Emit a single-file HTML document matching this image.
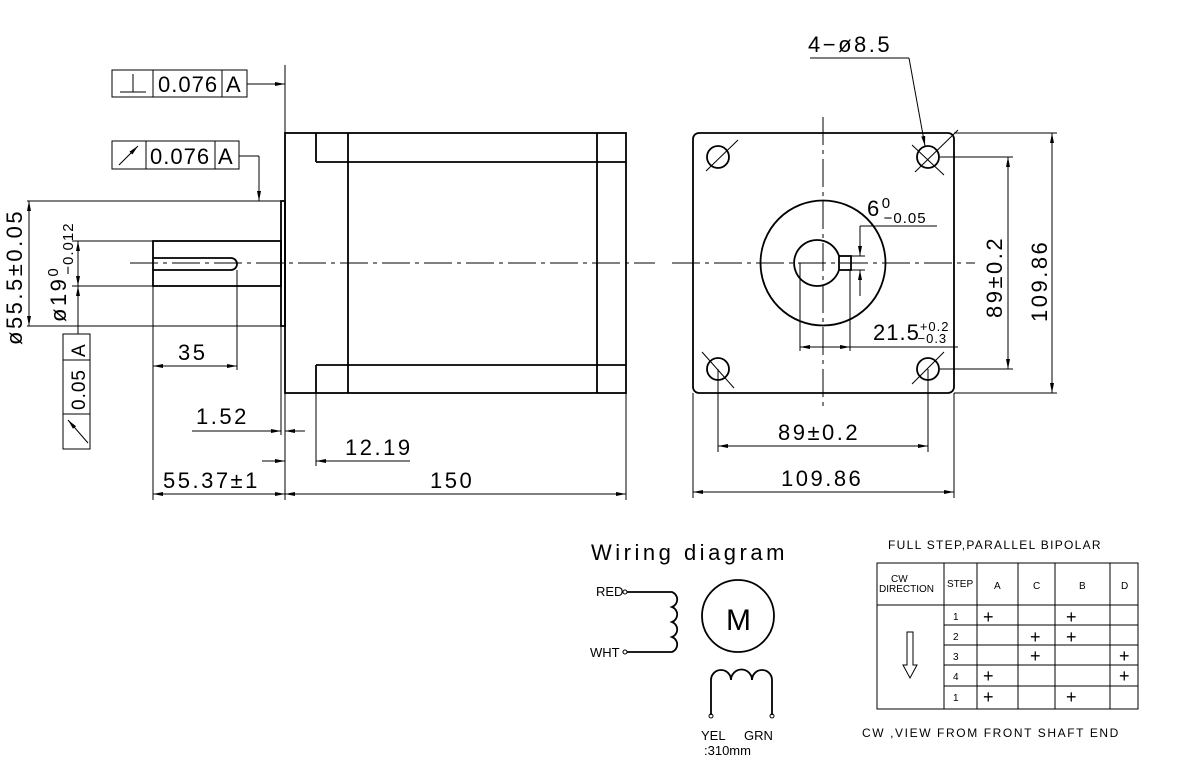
<!DOCTYPE html>
<html><head><meta charset="utf-8"><style>
html,body{margin:0;padding:0;background:#fff}
svg{display:block}
text{font-family:"Liberation Sans",sans-serif;fill:#000}
</style></head><body>
<svg width="1189" height="764" viewBox="0 0 1189 764" xmlns="http://www.w3.org/2000/svg">
<defs>
<marker id="a" viewBox="0 0 10 6" refX="10" refY="3" markerWidth="10" markerHeight="6" orient="auto-start-reverse" markerUnits="userSpaceOnUse"><path d="M0,1 L10,3 L0,5 Z" fill="#000"/></marker>
</defs>
<g stroke="#000" fill="none" stroke-width="1">
<line x1="130" y1="263" x2="655" y2="263" stroke-dasharray="28,5,4,5"/>
<line x1="672" y1="263" x2="975" y2="263" stroke-dasharray="28,5,4,5"/>
<line x1="823" y1="117" x2="823" y2="410" stroke-dasharray="28,5,4,5"/>

<g stroke-width="1.8">
<rect x="285" y="133" width="341" height="260"/>
<line x1="348" y1="133" x2="348" y2="393"/>
<line x1="597" y1="133" x2="597" y2="393"/>
<line x1="316" y1="133" x2="316" y2="162"/>
<line x1="316" y1="365" x2="316" y2="393"/>
<line x1="316" y1="162" x2="626" y2="162"/>
<line x1="316" y1="365" x2="626" y2="365"/>
<rect x="281" y="201" width="4" height="125"/>
<rect x="153" y="241" width="128" height="45"/>
<path d="M153,258 H231 A6,6 0 0 1 231,270 H153"/>
</g>
<line x1="285" y1="65" x2="285" y2="133"/>
<line x1="27" y1="201" x2="281" y2="201"/>
<line x1="27" y1="326" x2="281" y2="326"/>
<line x1="29" y1="201" x2="29" y2="326" marker-start="url(#a)" marker-end="url(#a)"/>
<line x1="72" y1="241" x2="153" y2="241"/>
<line x1="72" y1="286" x2="153" y2="286"/>
<line x1="78" y1="241" x2="78" y2="286" marker-start="url(#a)" marker-end="url(#a)"/>
<line x1="78" y1="334" x2="78" y2="286" marker-end="url(#a)"/>
<rect x="112" y="70" width="135" height="27"/>
<line x1="153" y1="70" x2="153" y2="97"/><line x1="222" y1="70" x2="222" y2="97"/>
<line x1="120" y1="92" x2="146" y2="92"/><line x1="133" y1="74" x2="133" y2="92"/>
<line x1="247" y1="84" x2="285" y2="84" marker-end="url(#a)"/>
<rect x="112" y="141" width="127" height="28"/>
<line x1="146" y1="141" x2="146" y2="169"/><line x1="215" y1="141" x2="215" y2="169"/>
<line x1="119" y1="165" x2="138" y2="146" marker-end="url(#a)"/>
<polyline points="239,156 259,156"/>
<line x1="259" y1="156" x2="259" y2="201" marker-end="url(#a)"/>
<rect x="63" y="334" width="27" height="115"/>
<line x1="63" y1="360" x2="90" y2="360"/><line x1="63" y1="414" x2="90" y2="414"/>
<line x1="88" y1="443" x2="68" y2="420" marker-end="url(#a)"/>
<line x1="153" y1="286" x2="153" y2="500"/>
<line x1="237" y1="270" x2="237" y2="370"/>
<line x1="153" y1="366" x2="237" y2="366" marker-start="url(#a)" marker-end="url(#a)"/>
<line x1="281" y1="326" x2="281" y2="435"/>
<line x1="192" y1="431" x2="281" y2="431" marker-end="url(#a)"/>
<line x1="305" y1="431" x2="285" y2="431" marker-end="url(#a)"/>
<line x1="285" y1="393" x2="285" y2="500"/>
<line x1="316" y1="393" x2="316" y2="466"/>
<line x1="262" y1="461" x2="285" y2="461" marker-end="url(#a)"/>
<line x1="410" y1="461" x2="316" y2="461" marker-end="url(#a)"/>
<line x1="626" y1="393" x2="626" y2="500"/>
<line x1="153" y1="494" x2="285" y2="494" marker-start="url(#a)" marker-end="url(#a)"/>
<line x1="285" y1="494" x2="626" y2="494" marker-start="url(#a)" marker-end="url(#a)"/>

<g stroke-width="1.8">
<rect x="693" y="133" width="261" height="260" rx="6"/>
<circle cx="823" cy="263" r="62.5"/>
<path d="M839,256 A23,23 0 1 0 839,270"/>
<rect x="839" y="256" width="12" height="14"/>
<circle cx="718" cy="157" r="11"/><circle cx="928" cy="157" r="11"/>
<circle cx="718" cy="369" r="11"/><circle cx="928" cy="369" r="11"/>
</g>
<line x1="706" y1="171" x2="738" y2="140"/>
<line x1="912" y1="145" x2="944" y2="175"/><line x1="915" y1="172" x2="958" y2="130"/>
<line x1="702" y1="352" x2="734" y2="388"/>
<line x1="912" y1="384" x2="944" y2="352"/>
<line x1="810" y1="58" x2="909" y2="58"/>
<line x1="909" y1="58" x2="925" y2="146" marker-end="url(#a)"/>
<line x1="860" y1="226" x2="937" y2="226"/>
<line x1="860" y1="226" x2="860" y2="256" marker-end="url(#a)"/>
<line x1="860" y1="296" x2="860" y2="270" marker-end="url(#a)"/>
<line x1="851" y1="256" x2="865" y2="256"/><line x1="851" y1="270" x2="865" y2="270"/>
<line x1="800" y1="263" x2="800" y2="351"/>
<line x1="850" y1="270" x2="850" y2="351"/>
<line x1="800" y1="347" x2="850" y2="347" marker-start="url(#a)" marker-end="url(#a)"/>
<line x1="850" y1="347" x2="958" y2="347"/>
<line x1="940" y1="157" x2="1013" y2="157"/>
<line x1="940" y1="369" x2="1013" y2="369"/>
<line x1="1008" y1="157" x2="1008" y2="369" marker-start="url(#a)" marker-end="url(#a)"/>
<line x1="954" y1="133" x2="1057" y2="133"/>
<line x1="954" y1="393" x2="1057" y2="393"/>
<line x1="1052" y1="133" x2="1052" y2="393" marker-start="url(#a)" marker-end="url(#a)"/>
<line x1="718" y1="369" x2="718" y2="452"/><line x1="928" y1="369" x2="928" y2="452"/>
<line x1="718" y1="446" x2="928" y2="446" marker-start="url(#a)" marker-end="url(#a)"/>
<line x1="693" y1="393" x2="693" y2="498"/><line x1="954" y1="393" x2="954" y2="498"/>
<line x1="693" y1="492" x2="954" y2="492" marker-start="url(#a)" marker-end="url(#a)"/>

<circle cx="738" cy="616" r="36" stroke-width="1.8"/>
<g stroke-width="1.8">
<path d="M627,592 H672 A8,8 0 0 1 672,607 A8,8 0 0 1 672,622 A8,8 0 0 1 672,637 A8,8 0 0 1 672,652 H627" />
<path d="M711,715 V680 A10,10 0 0 1 731,680 A10,10 0 0 1 752,680 A10,10 0 0 1 772,680 V715"/>
</g>
<circle cx="625" cy="592" r="2"/><circle cx="625" cy="652" r="2"/>
<circle cx="711" cy="716" r="2"/><circle cx="772" cy="716" r="2"/>

<rect x="877" y="563" width="261" height="146"/>
<line x1="944" y1="563" x2="944" y2="709"/><line x1="977" y1="563" x2="977" y2="709"/>
<line x1="1018" y1="563" x2="1018" y2="709"/><line x1="1055" y1="563" x2="1055" y2="709"/>
<line x1="1110" y1="563" x2="1110" y2="709"/>
<line x1="877" y1="605" x2="1138" y2="605"/>
<line x1="944" y1="625" x2="1138" y2="625"/><line x1="944" y1="645" x2="1138" y2="645"/>
<line x1="944" y1="665" x2="1138" y2="665"/><line x1="944" y1="686" x2="1138" y2="686"/>
<path d="M907,632 V665 H903 L910,678 L917,665 H913 V632 Z"/>
</g>

<g font-size="22" letter-spacing="2.5">
<text x="158" y="92" letter-spacing="1">0.076</text><text x="226" y="92" letter-spacing="0">A</text>
<text x="150" y="164" letter-spacing="1">0.076</text><text x="218" y="164" letter-spacing="0">A</text>
<text x="178" y="360">35</text>
<text x="196" y="424">1.52</text>
<text x="345" y="455">12.19</text>
<text x="163" y="488">55.37±1</text>
<text x="430" y="488">150</text>
<text x="808" y="52">4−ø8.5</text>
<text x="867" y="216">6<tspan font-size="15" dy="-8">0</tspan><tspan font-size="15" dx="-9" dy="15" letter-spacing="1">−0.05</tspan></text>
<text x="873" y="340" letter-spacing="1">21.5<tspan font-size="13" dy="-9">+0.2</tspan><tspan font-size="13" dx="-32" dy="12">−0.3</tspan></text>
<text x="778" y="440">89±0.2</text>
<text x="781" y="486">109.86</text>
<text transform="translate(1002,318) rotate(-90)">89±0.2</text>
<text transform="translate(1047,322) rotate(-90)">109.86</text>
<text transform="translate(22,345) rotate(-90)">ø55.5±0.05</text>
<text transform="translate(66,322) rotate(-90)">ø19<tspan font-size="15" dy="-8">0</tspan><tspan font-size="15" dx="-9" dy="15" letter-spacing="1">−0.012</tspan></text>
<text transform="translate(85,357) rotate(-90)" font-size="19">A</text>
<text transform="translate(85,410) rotate(-90)" font-size="19" letter-spacing="1">0.05</text>
<text x="591" y="560" font-size="22" letter-spacing="3.5">Wiring  diagram</text>
<text x="726" y="630" font-size="30" letter-spacing="0">M</text>
</g>
<g font-size="13">
<text x="596" y="596">RED</text>
<text x="590" y="657">WHT</text>
<text x="701" y="740">YEL</text><text x="744" y="740">GRN</text>
<text x="704" y="755">:310mm</text>
<text x="888" y="549" font-size="12" letter-spacing="1.3">FULL  STEP,PARALLEL  BIPOLAR</text>
<text x="862" y="737" font-size="12" letter-spacing="1.6">CW  ,VIEW  FROM  FRONT  SHAFT  END</text>
</g>
<g font-size="10">
<text x="891" y="582">CW</text><text x="879" y="592">DIRECTION</text>
<text x="947" y="587">STEP</text>
<text x="994" y="589">A</text><text x="1033" y="589">C</text><text x="1079" y="589">B</text><text x="1121" y="589">D</text>
<text x="953" y="620">1</text><text x="953" y="640">2</text><text x="953" y="660">3</text><text x="953" y="680">4</text><text x="953" y="701">1</text>
</g>
<g font-size="18">
<text x="983" y="623">+</text><text x="1066" y="623">+</text>
<text x="1030" y="643">+</text><text x="1066" y="643">+</text>
<text x="1030" y="662">+</text><text x="1119" y="662">+</text>
<text x="983" y="682">+</text><text x="1119" y="682">+</text>
<text x="983" y="703">+</text><text x="1066" y="703">+</text>
</g>
</svg>
</body></html>
